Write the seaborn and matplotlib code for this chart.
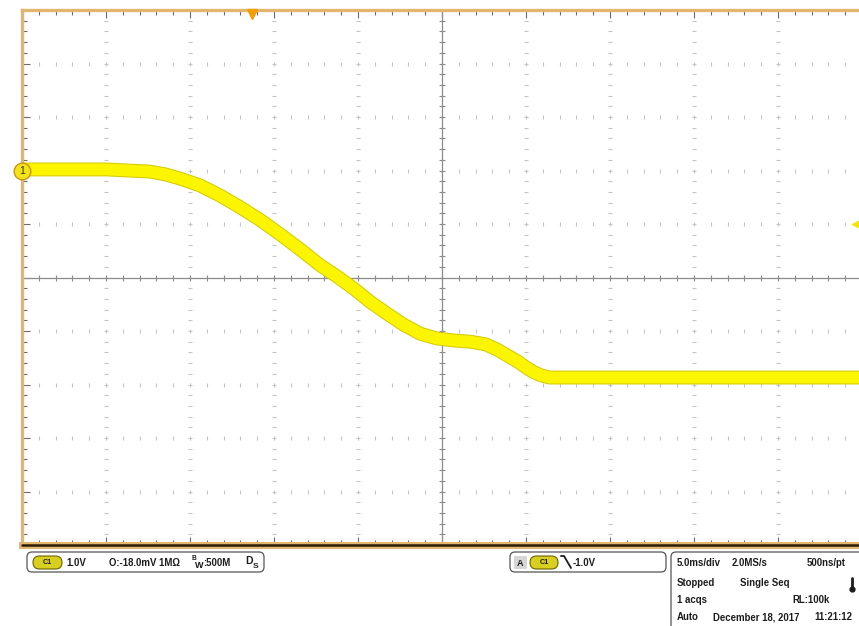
import numpy as np
import pandas as pd
import seaborn as sns
import matplotlib.pyplot as plt
import matplotlib.patheffects as pe
from matplotlib.patches import FancyBboxPatch
from matplotlib.lines import Line2D

# scope settings
T_PER_DIV = 5.0      # ms/div
V_PER_DIV = 1.0      # V/div
GROUND_DIV = 2.0     # ground marker sits 2 div above screen centre
TRIG_TIME = -11.3    # ms, trigger position marker
TRIG_LEVEL = -1.0    # V

# trace (time in ms, volts relative to ground)
time_ms = [-25.0, -20.0, -17.4, -16.5, -15.6, -14.4, -13.2, -12.0, -10.8,
           -9.6, -8.3, -7.3, -6.25, -5.2, -4.3, -3.3, -2.3, -1.3, -0.3,
           0.8, 1.7, 2.6, 3.3, 3.9, 4.5, 5.0, 5.4, 5.9, 6.4, 7.0, 15.0, 25.0]
volts = [0.02, 0.02, -0.02, -0.07, -0.15, -0.28, -0.47, -0.69, -0.93,
         -1.20, -1.51, -1.76, -1.98, -2.22, -2.45, -2.67, -2.88, -3.05,
         -3.14, -3.18, -3.20, -3.25, -3.35, -3.46, -3.57, -3.68, -3.76,
         -3.83, -3.87, -3.87, -3.87, -3.87]

# readout texts
ch_scale = "1.0V"
ch_offset = "O:-18.0mV 1M\u03a9"
trig_text = "-1.0V"
readout = [["5.0ms/div", "2.0MS/s", "500ns/pt"],
           ["Stopped", "Single Seq"],
           ["1 acqs", "RL:100k"],
           ["Auto", "December 18, 2017", "11:21:12"]]

W, H = 859, 626
sns.set_style("white")
plt.rcParams["font.family"] = ["Liberation Sans", "DejaVu Sans"]

fig = plt.figure(figsize=(W / 100, H / 100), dpi=100)
ax = fig.add_axes([22 / W, (H - 545) / H, 840 / W, 535 / H])

t_lo, t_hi = -5 * T_PER_DIV, 5 * T_PER_DIV
centre = -GROUND_DIV * V_PER_DIV
v_lo, v_hi = centre - 5 * V_PER_DIV, centre + 5 * V_PER_DIV
ax.set_xlim(t_lo, t_hi)
ax.set_ylim(v_lo, v_hi)

tan = "#e3b66e"
for side in ["left", "top", "bottom"]:
    ax.spines[side].set_color(tan)
    ax.spines[side].set_linewidth(2.4)
ax.spines["bottom"].set_linewidth(5)
ax.spines["right"].set_visible(False)
ax.axhline(v_lo, color="#2a1c06", lw=1.8, clip_on=False, zorder=6)

ax.set_xticks(np.arange(t_lo, t_hi + 0.01, T_PER_DIV))
ax.set_xticks(np.arange(t_lo, t_hi + 0.01, T_PER_DIV / 5), minor=True)
ax.set_yticks(np.arange(v_lo, v_hi + 0.01, V_PER_DIV))
ax.set_yticks(np.arange(v_lo, v_hi + 0.01, V_PER_DIV / 5), minor=True)
ax.tick_params(which="both", direction="in", colors="#6a6a6a",
               labelleft=False, labelbottom=False,
               left=True, top=True, bottom=True, right=False, width=0.8)
ax.tick_params(which="major", length=6)
ax.tick_params(which="minor", length=3.5)

# dotted graticule
xs_minor = np.arange(t_lo, t_hi + 0.01, T_PER_DIV / 5)
ys_minor = np.arange(v_lo, v_hi + 0.01, V_PER_DIV / 5)
for t in np.arange(t_lo + T_PER_DIV, t_hi, T_PER_DIV):
    if abs(t) < 1e-9:
        continue
    ax.plot(np.full_like(ys_minor, t), ys_minor, ls="none", marker="_",
            ms=2.5, mew=0.8, color="#c4c4c4", zorder=1)
for v in np.arange(v_lo + V_PER_DIV, v_hi, V_PER_DIV):
    if abs(v - centre) < 1e-9:
        continue
    ax.plot(xs_minor, np.full_like(xs_minor, v), ls="none", marker="|",
            ms=2.5, mew=0.8, color="#c4c4c4", zorder=1)

# centre crosshair with ticks
ax.axvline(0, color="#8c8c8c", lw=0.9, zorder=2)
ax.axhline(centre, color="#8c8c8c", lw=0.9, zorder=2)
ax.plot(np.zeros_like(ys_minor), ys_minor, ls="none", marker="_", ms=4.5,
        mew=0.8, color="#8c8c8c", zorder=2)
ax.plot(xs_minor, np.full_like(xs_minor, centre), ls="none", marker="|",
        ms=4.5, mew=0.8, color="#8c8c8c", zorder=2)

# the trace
df = pd.DataFrame({"time": time_ms, "volts": volts})
sns.lineplot(data=df, x="time", y="volts", ax=ax, color="#fbf500",
             linewidth=8.5, zorder=4, solid_joinstyle="round",
             solid_capstyle="butt", legend=False)
ax.lines[-1].set_path_effects([pe.Stroke(linewidth=10, foreground="#d6ca06"),
                               pe.Normal()])
ax.set_xlabel("")
ax.set_ylabel("")

# markers
ax.plot([t_lo], [0], marker="o", ms=12, mfc="#f3e31c", mec="#c8960e",
        mew=1.0, clip_on=False, zorder=10)
ax.text(t_lo, 0, "1", ha="center", va="center", fontsize=7.5,
        color="#3a3000", zorder=11)
ax.plot([TRIG_TIME], [v_hi - 0.08], marker="v", ms=7, color="#f2a000",
        clip_on=False, zorder=10)
ax.plot([t_hi], [TRIG_LEVEL], marker="<", ms=14, color="#f2e400",
        clip_on=False, zorder=10)


# status bar (figure pixel coords, y from top)
def box(x0, y0, x1, y1, r=0.05, fc="white", ec="#555555", lw=0.9):
    p = FancyBboxPatch((x0 / 100, (H - y1) / 100), (x1 - x0) / 100,
                       (y1 - y0) / 100,
                       boxstyle=f"round,pad=0,rounding_size={r}",
                       transform=fig.dpi_scale_trans, fc=fc, ec=ec, lw=lw)
    fig.add_artist(p)


def txt(x, y, s, size=6.9, **kw):
    fig.text(x / W, 1 - y / H, s, fontsize=size, fontweight="bold",
             color="#1c1c1c", va="center", ha="left", **kw)


def pill(x0, x1, y0, y1):
    box(x0, y0, x1, y1, r=(y1 - y0) / 200, fc="#d9cf1e", ec="#6b6400", lw=0.8)
    txt((x0 + x1) / 2, (y0 + y1) / 2 + 0.5, "C1", size=5.2)
    fig.texts[-1].set_ha("center")


box(27, 552, 264, 572)
pill(33, 62, 556, 569)
txt(66, 563, ch_scale)
txt(109, 563, ch_offset)
txt(191, 558, "B", size=4.8)
txt(195, 565, "W", size=6.5)
txt(203, 563, ":500M")
txt(245, 561, "D", size=7.5)
txt(253, 567, "S", size=6.0)

box(510, 552, 666, 572)
box(514, 556, 527, 569, r=0.01, fc="#d6d6d6", ec="none", lw=0)
txt(520.5, 563, "A", size=6.5)
fig.texts[-1].set_ha("center")
pill(530, 558, 556, 569)
fig.add_artist(Line2D([561 / W, 564 / W, 571 / W],
                      [1 - 556 / H, 1 - 556 / H, 1 - 568 / H],
                      transform=fig.transFigure, color="#1c1c1c", lw=1.3))
txt(573, 563, trig_text)

box(671, 552, 920, 680)
cols = [[677, 732, 807], [677, 740], [677, 792], [677, 713, 814]]
rows_y = [563, 583, 600, 617]
for row, xs, y in zip(readout, cols, rows_y):
    for s, x in zip(row, xs):
        txt(x, y, s)
fig.add_artist(Line2D([852 / W, 852 / W], [1 - 578 / H, 1 - 588 / H],
                      transform=fig.transFigure, color="#1c1c1c", lw=2.0))
fig.add_artist(Line2D([852 / W], [1 - 589 / H], marker="o", ms=3.5,
                      transform=fig.transFigure, color="#1c1c1c"))

fig.savefig("out.png", dpi=100, facecolor="white")
